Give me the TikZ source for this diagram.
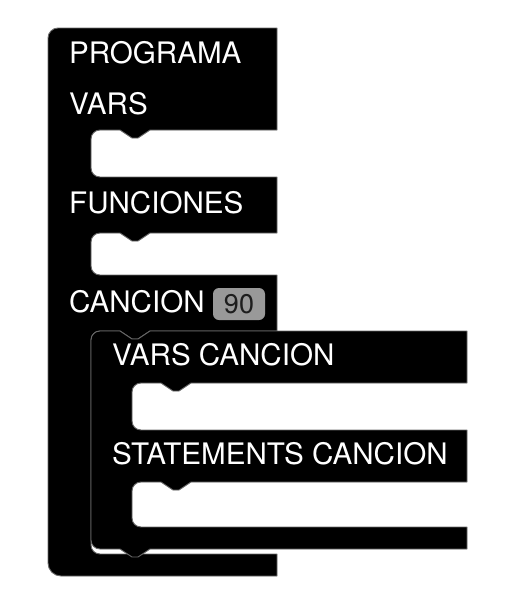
\documentclass[tikz,border=0pt]{standalone}
\usepackage{fontspec}
\setmainfont{TeX Gyre Heros}
\definecolor{edge}{RGB}{105,105,105}
\definecolor{badgefill}{RGB}{153,153,153}
\definecolor{badgetext}{RGB}{30,30,30}
\begin{document}
\begin{tikzpicture}[x=1pt,y=-1pt,
  blockshape/.style={fill=black,draw=edge,line width=0.9pt,line join=round},
  lbl/.style={anchor=base west,inner sep=0pt,text=white,font=\fontsize{29.6}{34}\selectfont},
  badge/.style={fill=badgefill,rounded corners=6pt,draw=none}]
\useasboundingbox (0,0) rectangle (512,616);
% outer block
\path[blockshape] (48,38) .. controls (48,32.5) and (52.5,28) .. (58,28) -- (277,28) -- (277,130)
  -- (150,130) -- (138,138) -- (132,138) -- (120,130) -- (100,130)
  .. controls (95,130) and (91,134) .. (91,139) -- (91,168) .. controls (91,173) and (95,177) .. (100,177)
  -- (277,177) -- (277,233)
  -- (150,233) -- (138,241) -- (132,241) -- (120,233) -- (100,233)
  .. controls (95,233) and (91,237) .. (91,242) -- (91,266) .. controls (91,271) and (95,275) .. (100,275)
  -- (277,275) -- (277,331)
  -- (150,331) -- (138,339) -- (132,339) -- (120,331) -- (100,331)
  .. controls (95,331) and (91,335) .. (91,340) -- (91,545) .. controls (91,550) and (95,554) .. (100,554)
  -- (277,554) -- (277,576) -- (61,576) .. controls (53.8,576) and (48,570.2) .. (48,563) -- cycle;
% inner block
\path[blockshape] (91,340) .. controls (91,335) and (95,331) .. (100,331) -- (120,331) -- (132,339) -- (138,339) -- (150,331)
  -- (467,331) -- (467,383)
  -- (191,383) -- (179,391) -- (173,391) -- (161,383) -- (141,383)
  .. controls (136,383) and (132,387) .. (132,392) -- (132,421) .. controls (132,426) and (136,430) .. (141,430)
  -- (467,430) -- (467,482)
  -- (191,482) -- (179,490) -- (173,490) -- (161,482) -- (141,482)
  .. controls (136,482) and (132,486) .. (132,491) -- (132,518) .. controls (132,523) and (136,527) .. (141,527)
  -- (467,527) -- (467,549)
  -- (150,549) -- (138,557) -- (132,557) -- (120,549) -- (100,549)
  .. controls (95,549) and (91,545) .. (91,540) -- cycle;
% labels
\node[lbl] (programa) at (69,63) {PROGRAMA};
\node[lbl] (vars) at (69,114) {VARS};
\node[lbl] (funciones) at (69,213) {FUNCIONES};
\node[lbl] (cancion) at (69,312) {CANCION};
\path[badge] (213,288) rectangle (265,320);
\node[inner sep=0pt,text=badgetext,font=\fontsize{27}{32}\selectfont] (num) at (239,304.5) {90};
\node[lbl] (varscancion) at (112,365) {VARS CANCION};
\node[lbl] (statements) at (112,464) {STATEMENTS CANCION};
\end{tikzpicture}
\end{document}
